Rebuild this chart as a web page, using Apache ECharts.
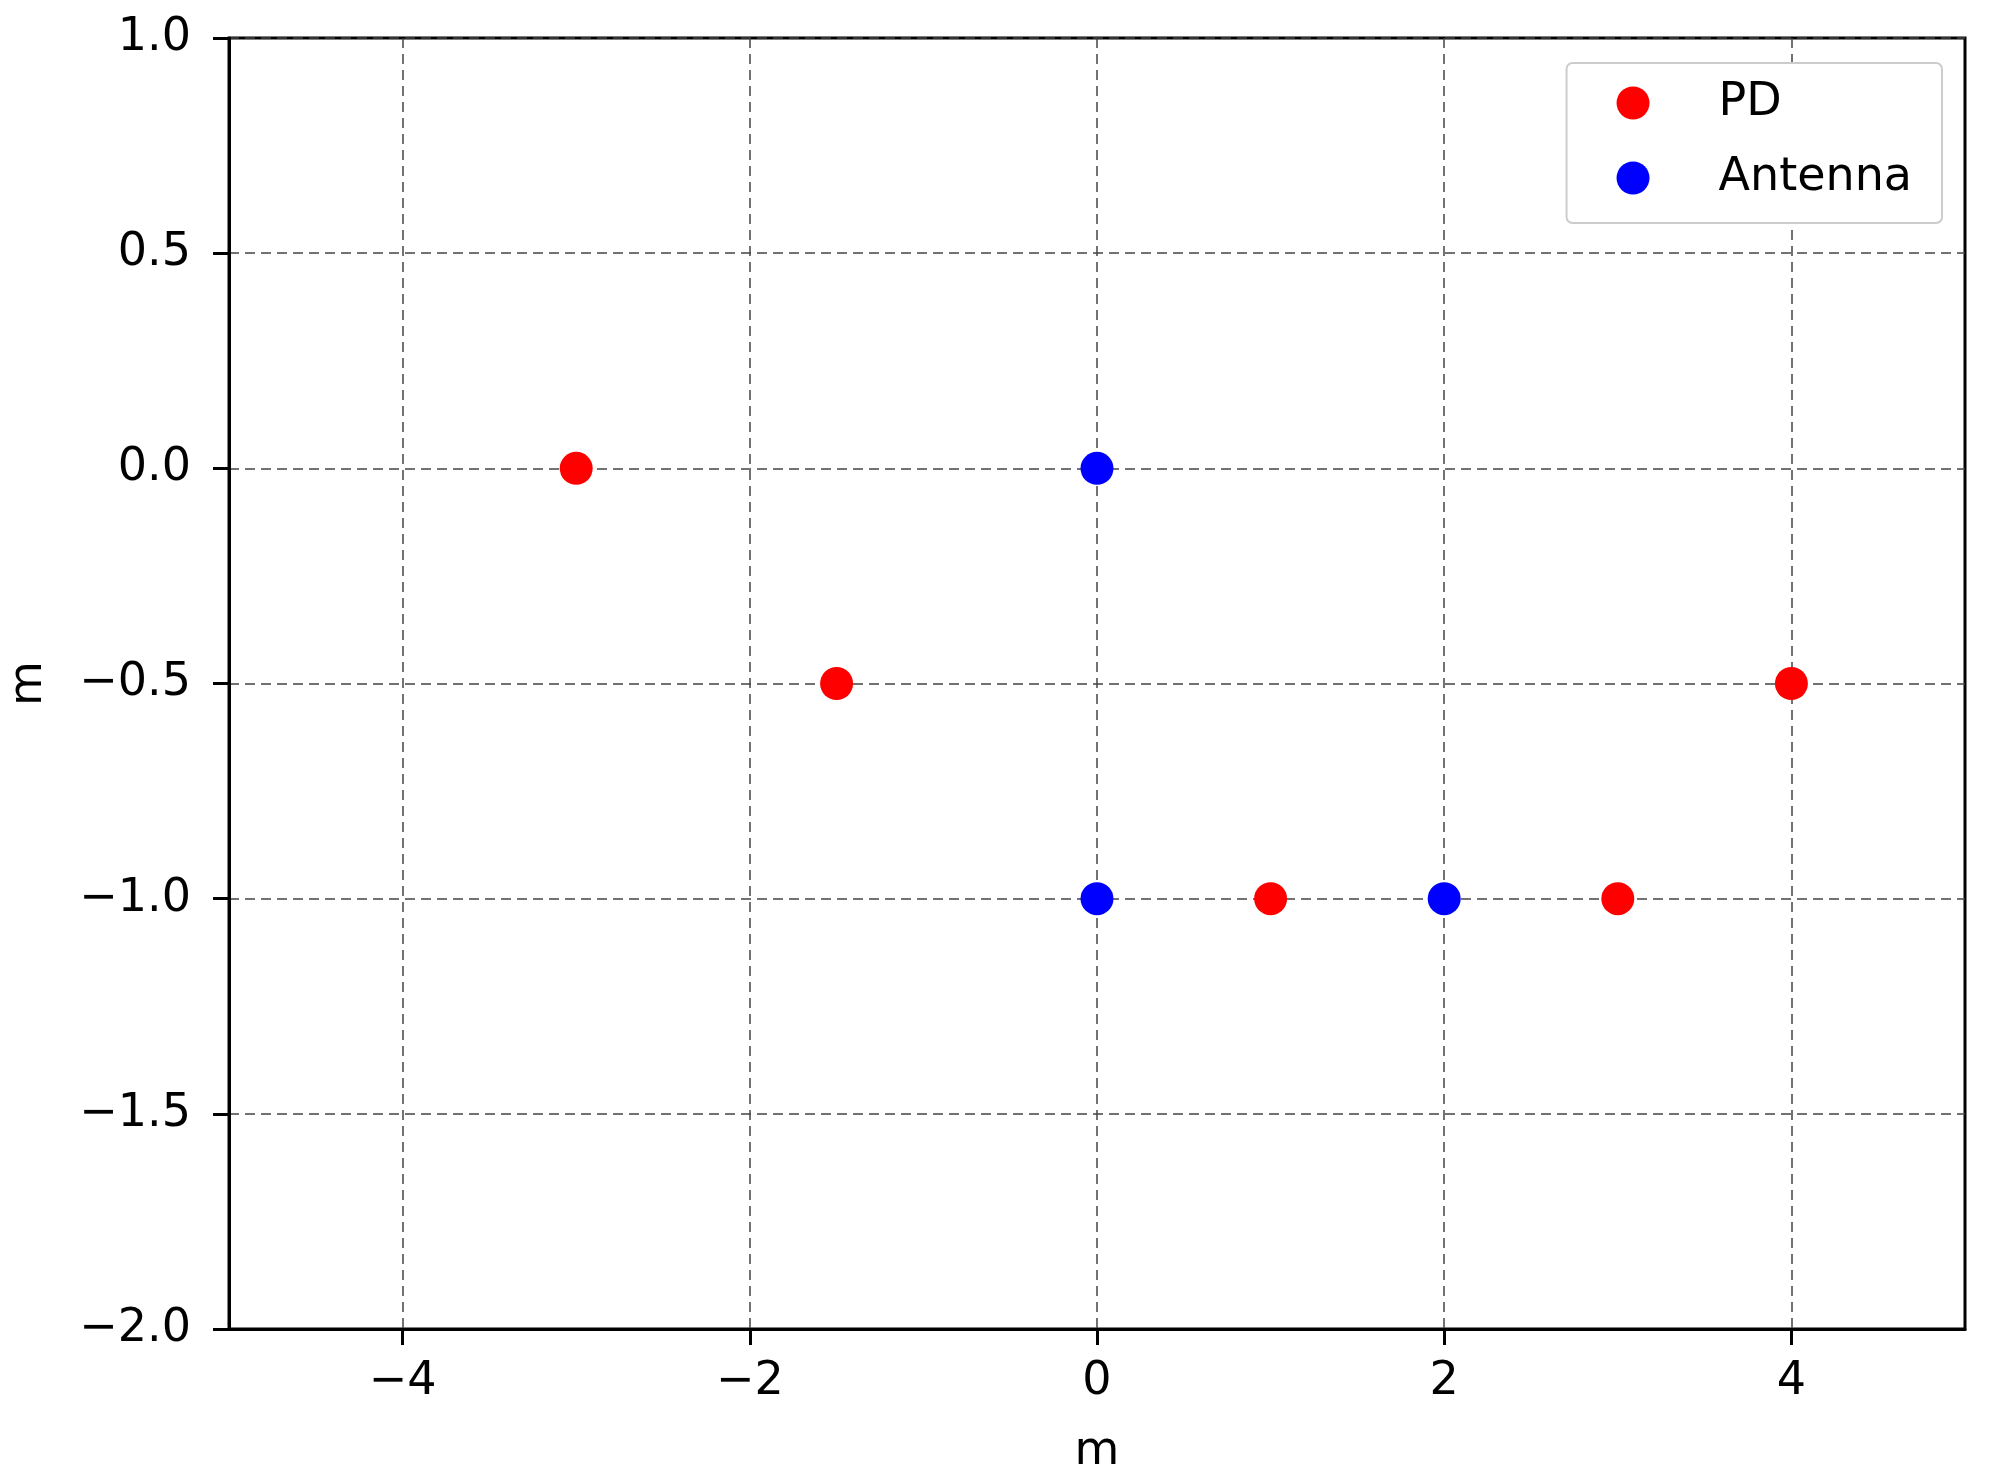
<!DOCTYPE html>
<html>
<head>
<meta charset="utf-8">
<script src="https://cdn.jsdelivr.net/npm/echarts@6/dist/echarts.min.js"></script>
<style>
  html, body { margin: 0; padding: 0; background: #fff; }
  #chart { width: 1989px; height: 1484px; }
</style>
</head>
<body>
<div id="chart"></div>
<script>
// data
var pdPoints = [[-3, 0], [-1.5, -0.5], [1, -1], [3, -1], [4, -0.5]];
var antennaPoints = [[0, 0], [0, -1], [2, -1]];
var xTicks = [-4, -2, 0, 2, 4];
var xRange = [-5, 5];
var yRange = [-2, 1];
var yStep = 0.5;

var font = "DejaVu Sans";
var minus = function (s) { return s.replace("-", "\u2212"); };

var chart = echarts.init(document.getElementById("chart"));
chart.setOption({
  animation: false,
  backgroundColor: "#fff",
  textStyle: { fontFamily: font },
  grid: {
    left: 229, right: 24, top: 38, bottom: 155,
    outerBoundsMode: "none",
    containLabel: false,
    show: true, borderColor: "#000", borderWidth: 3
  },
  legend: {
    data: ["PD", "Antenna"],
    orient: "vertical",
    right: 47,
    top: 63,
    icon: "circle",
    itemWidth: 33,
    itemHeight: 33,
    itemGap: 29,
    padding: [17, 30, 22, 50],
    backgroundColor: "#fff",
    borderColor: "#ccc",
    borderWidth: 2,
    borderRadius: 6,
    textStyle: {
      fontFamily: font, fontSize: 46, lineHeight: 46, color: "#000",
      padding: [0, 0, 0, 64]
    }
  },
  xAxis: {
    type: "value",
    min: xRange[0], max: xRange[1], interval: 1,
    name: "m",
    nameLocation: "middle",
    nameGap: 100,
    nameTextStyle: { fontFamily: font, fontSize: 46, color: "#000" },
    axisLine: { onZero: false, lineStyle: { color: "#000", width: 3 } },
    axisTick: { customValues: xTicks, length: 16, lineStyle: { color: "#000", width: 3 } },
    axisLabel: {
      customValues: xTicks, margin: 30,
      fontFamily: font, fontSize: 46, color: "#000",
      formatter: function (v) { return minus(String(v)); }
    },
    splitLine: { show: true, lineStyle: { color: "#444", width: 1.5, type: [10, 6] } }
  },
  yAxis: {
    type: "value",
    min: yRange[0], max: yRange[1], interval: yStep,
    name: "m",
    nameLocation: "middle",
    nameGap: 177,
    nameTextStyle: { fontFamily: font, fontSize: 46, color: "#000" },
    axisLine: { onZero: false, lineStyle: { color: "#000", width: 3 } },
    axisTick: { length: 16, lineStyle: { color: "#000", width: 3 } },
    axisLabel: {
      margin: 38,
      fontFamily: font, fontSize: 46, color: "#000",
      formatter: function (v) { return minus(v.toFixed(1)); }
    },
    splitLine: { show: true, lineStyle: { color: "#444", width: 1.5, type: [10, 6] } }
  },
  series: [
    {
      name: "PD", type: "scatter", data: pdPoints,
      symbol: "circle", symbolSize: 33,
      itemStyle: { color: "#ff0000", opacity: 1 }
    },
    {
      name: "Antenna", type: "scatter", data: antennaPoints,
      symbol: "circle", symbolSize: 33,
      itemStyle: { color: "#0000ff", opacity: 1 }
    }
  ]
});
</script>
</body>
</html>
